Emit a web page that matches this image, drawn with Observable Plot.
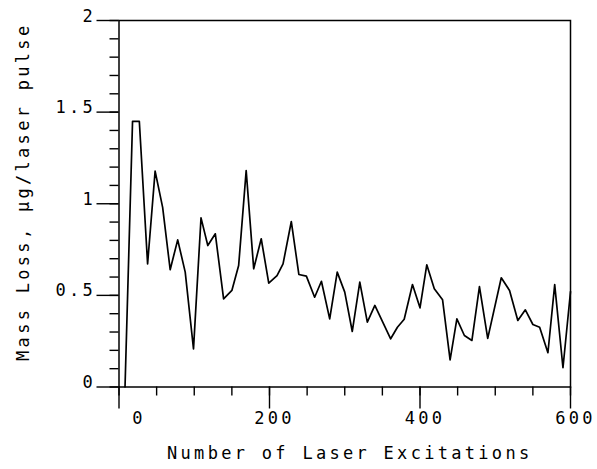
<!DOCTYPE html>
<html><head><meta charset="utf-8">
<script src="https://cdn.jsdelivr.net/npm/d3@7"></script>
<script src="https://cdn.jsdelivr.net/npm/@observablehq/plot@0.6"></script>
<style>body{margin:0;background:#fff} svg text{letter-spacing:3.3px}</style>
</head><body><div id="chart"></div>
<script>
const excitations = [8, 18, 27, 38, 48, 58, 68, 78, 88, 99, 109, 118, 128, 139, 150, 159, 169, 179, 189, 199, 210, 218, 229, 239, 249, 260, 269, 280, 290, 300, 310, 320, 330, 340, 361, 370, 379, 390, 400, 409, 419, 430, 440, 449, 459, 469, 479, 490, 508, 519, 530, 540, 550, 559, 570, 579, 590, 600];
const massLoss = [0, 1.45, 1.45, 0.672, 1.178, 0.98, 0.64, 0.803, 0.627, 0.208, 0.923, 0.772, 0.836, 0.481, 0.527, 0.663, 1.181, 0.645, 0.809, 0.567, 0.608, 0.672, 0.903, 0.614, 0.605, 0.49, 0.577, 0.372, 0.627, 0.518, 0.303, 0.572, 0.354, 0.445, 0.263, 0.326, 0.37, 0.559, 0.432, 0.667, 0.536, 0.476, 0.148, 0.372, 0.281, 0.254, 0.548, 0.265, 0.596, 0.527, 0.363, 0.421, 0.341, 0.326, 0.187, 0.559, 0.105, 0.52];
const xMajorTicks = [0, 200, 400, 600];
const xMinorTicks = [0, 50, 100, 150, 200, 250, 300, 350, 400, 450, 500, 550, 600];
const yMajorTicks = [0, 0.5, 1, 1.5, 2];
const yMinorTicks = [0, 0.1, 0.2, 0.3, 0.4, 0.5, 0.6, 0.7, 0.8, 0.9, 1, 1.1, 1.2, 1.3, 1.4, 1.5, 1.6, 1.7, 1.8, 1.9, 2];
const xTitle = "Number of Laser Excitations";
const yTitle = "Mass Loss, µg/laser pulse";

const data = excitations.map((x, i) => ({x, y: massLoss[i]}));
const font = "DejaVu Sans Mono";
const txt = {fontSize: 17, fill: "black", fontFamily: font};
const tk = {tickFormat: () => "", label: null, strokeWidth: 1.4};

const chart = Plot.plot({
  width: 597, height: 469,
  marginLeft: 118.5, marginRight: 27, marginTop: 20, marginBottom: 82.5,
  x: {domain: [0, 600], axis: null},
  y: {domain: [0, 2], axis: null},
  style: {fontFamily: font, background: "white", color: "black", overflow: "visible"},
  marks: [
    Plot.frame({stroke: "black", strokeWidth: 1.5}),
    Plot.axisX({ticks: xMinorTicks, tickSize: 9, ...tk}),
    Plot.axisX({ticks: xMajorTicks, tickSize: 22, ...tk}),
    Plot.axisY({ticks: yMinorTicks, tickSize: 9, ...tk}),
    Plot.axisY({ticks: yMajorTicks, tickSize: 22, ...tk}),
    Plot.line(data, {x: "x", y: "y", stroke: "black", strokeWidth: 1.7}),
    Plot.text(xMajorTicks.filter(d => d !== 0), {x: d => d, text: d => String(d), frameAnchor: "bottom", lineAnchor: "top", dy: 25, dx: 5, ...txt}),
    Plot.text(xMajorTicks.filter(d => d === 0), {x: d => d, text: d => String(d), frameAnchor: "bottom", lineAnchor: "top", dy: 25, dx: 20, ...txt}),
    Plot.text(yMajorTicks, {y: d => d, text: d => String(d), frameAnchor: "left", textAnchor: "end", lineAnchor: "bottom", dx: -23, dy: 1, ...txt}),
    Plot.text([xTitle], {text: d => d, frameAnchor: "bottom", textAnchor: "middle", lineAnchor: "top", dy: 60, dx: 5, ...txt}),
    Plot.text([yTitle], {text: d => d, frameAnchor: "left", textAnchor: "middle", lineAnchor: "middle", rotate: -90, dx: -95, dy: -12, ...txt})
  ]
});
document.getElementById("chart").appendChild(chart);
</script>
</body></html>
